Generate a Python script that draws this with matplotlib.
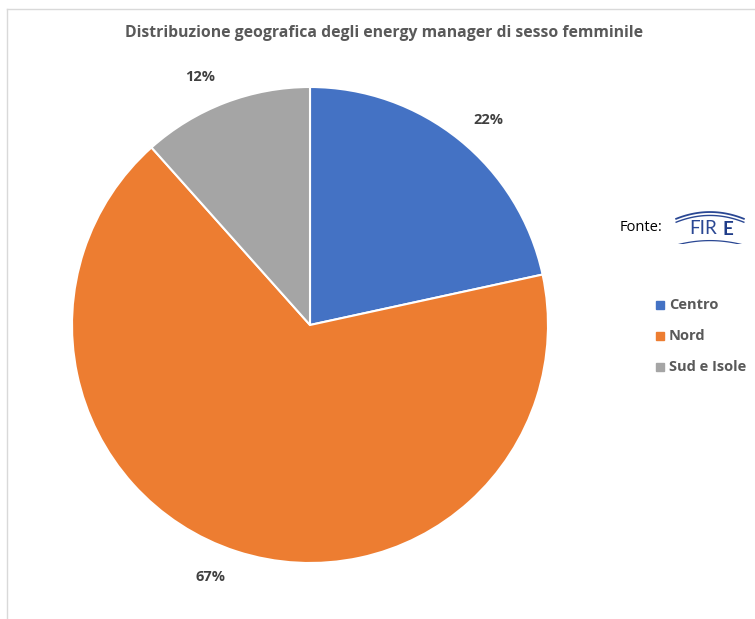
"""Pie chart: distribuzione geografica degli energy manager di sesso femminile."""

import matplotlib.pyplot as plt
from matplotlib.lines import Line2D
import numpy as np

CATEGORIES = ["Centro", "Nord", "Sud e Isole"]
SHARES = [21.6, 66.8, 11.6]
COLORS = ["#4472C4", "#ED7D31", "#A5A5A5"]
TITLE = "Distribuzione geografica degli energy manager di sesso femminile"

# small angular nudges (degrees) of the percentage labels, as Excel places them
LABEL_NUDGE = [-2.2, -3.6, 3.1]
LABEL_R = 1.14

W, H = 755, 619


def main():
    plt.rcParams["font.family"] = ["Open Sans", "DejaVu Sans"]
    fig = plt.figure(figsize=(W / 100, H / 100), dpi=100)

    # chart frame (light grey edges, top and left visible)
    fig.add_artist(Line2D([7 / W, 7 / W], [0, 1 - 9 / H], color="#d9d9d9", lw=1))
    fig.add_artist(Line2D([7 / W, 1], [1 - 9 / H, 1 - 9 / H], color="#d9d9d9", lw=1))

    cx, cy, r = 310, 325, 238
    ax = fig.add_axes([(cx - r) / W, (H - cy - r) / H, 2 * r / W, 2 * r / H])
    wedges, _, autotexts = ax.pie(
        SHARES, colors=COLORS, startangle=90, counterclock=False,
        autopct=lambda p: f"{p:.0f}%", pctdistance=LABEL_R,
        wedgeprops=dict(edgecolor="white", linewidth=1.5),
        textprops=dict(fontsize=10.5, fontweight="bold", color="#404040"),
    )
    for w, txt, nudge in zip(wedges, autotexts, LABEL_NUDGE):
        ang = np.deg2rad((w.theta1 + w.theta2) / 2 + nudge)
        txt.set_position((LABEL_R * np.cos(ang), LABEL_R * np.sin(ang)))
    ax.set_xlim(-1, 1)
    ax.set_ylim(-1, 1)
    ax.set_aspect("equal")
    ax.axis("off")

    fig.text(384 / W, 1 - 33 / H, TITLE, ha="center", va="center",
             fontsize=11.3, fontweight="bold", color="#595959")

    # source + FIRE logo
    fig.text(620 / W, 1 - 227 / H, "Fonte:", ha="left", va="center",
             fontsize=10.5, color="#000000")
    lax = fig.add_axes([674 / W, 1 - 244 / H, 72 / W, 34 / H])
    lax.set_xlim(0, 1)
    lax.set_ylim(0, 1)
    lax.axis("off")
    blue = "#2a4793"
    t = np.linspace(0.03, 0.97, 60)
    for top, lw in [(0.94, 1.3), (0.84, 1.0)]:
        lax.plot(t, top - 0.9 * (t - 0.5) ** 2, color=blue, lw=lw)
    lax.plot(t, 0.10 - 0.6 * (t - 0.5) ** 2, color=blue, lw=0.9)
    lax.text(0.40, 0.45, "FIR", ha="center", va="center", fontsize=13.5,
             color=blue, fontweight="normal", family=["Lato", "DejaVu Sans"])
    lax.text(0.745, 0.43, "E", ha="center", va="center", fontsize=13.5,
             color="#1f3c88", fontweight="bold", family=["Lato", "DejaVu Sans"])

    # legend
    for i, (name, col) in enumerate(zip(CATEGORIES, COLORS)):
        y = 1 - (305 + i * 31) / H
        fig.patches.append(plt.Rectangle((656 / W, y - 4 / H), 8 / W, 8 / H,
                                         color=col, transform=fig.transFigure))
        fig.text(669 / W, y, name, ha="left", va="center", fontsize=10.5,
                 fontweight="bold", color="#595959")

    fig.savefig("out.png", dpi=100)
    plt.close(fig)


if __name__ == "__main__":
    main()
